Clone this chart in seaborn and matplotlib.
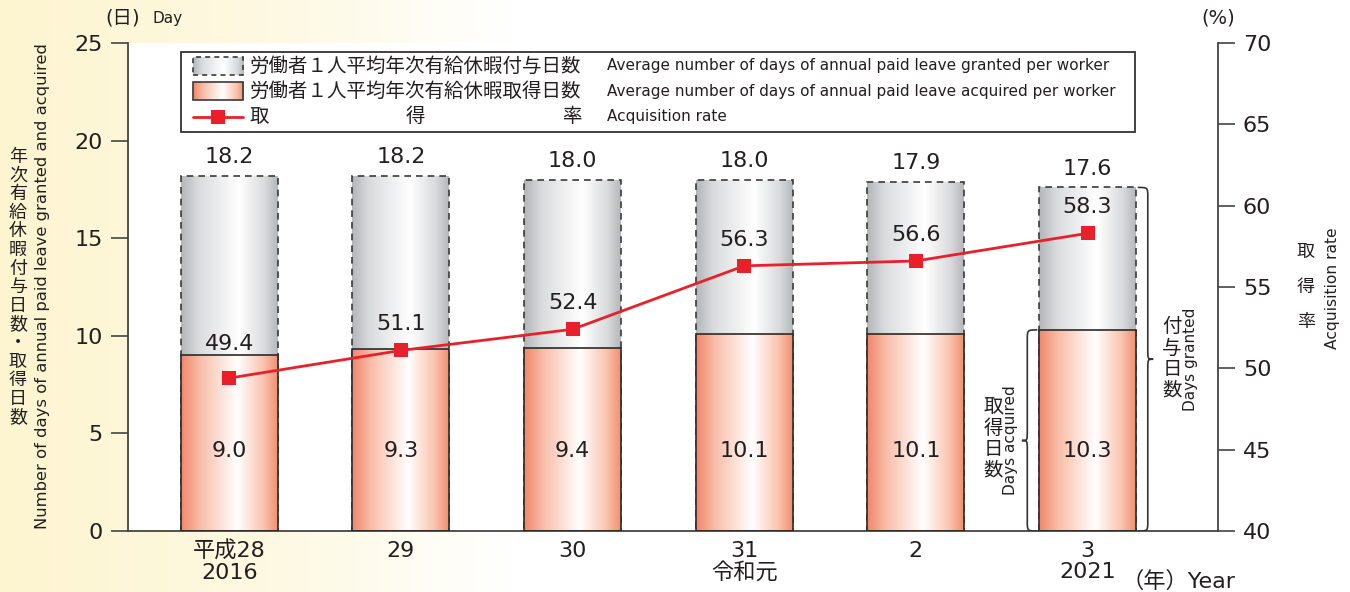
import numpy as np
import pandas as pd
import seaborn as sns
import matplotlib.pyplot as plt
from matplotlib.colors import LinearSegmentedColormap
from matplotlib.patches import Rectangle, PathPatch
from matplotlib.path import Path
import matplotlib.transforms as mtransforms

sns.set_theme(style='ticks')
plt.rcParams['font.family'] = ['DejaVu Sans', 'Noto Sans CJK JP']
plt.rcParams['text.color'] = '#231f20'
JP = ['Noto Sans CJK JP', 'DejaVu Sans']

# data
year_labels = ['平成28\n2016', '29', '30', '31\n令和元', '2', '3\n2021']
granted = [18.2, 18.2, 18.0, 18.0, 17.9, 17.6]
acquired = [9.0, 9.3, 9.4, 10.1, 10.1, 10.3]
rate = [49.4, 51.1, 52.4, 56.3, 56.6, 58.3]

df = pd.DataFrame({'year': year_labels, 'granted': granted,
                   'acquired': acquired, 'rate': rate})

W, H = 1350, 592
INK = '#231f20'
RED = '#e8202a'

gray_cmap = LinearSegmentedColormap.from_list('g', [(0, '#b3b5b8'), (0.18, '#dadbdd'), (0.6, '#ffffff'),
                                                    (0.86, '#dadbdd'), (1, '#b5b7ba')])
orange_cmap = LinearSegmentedColormap.from_list('o', [(0, '#f1866a'), (0.2, '#f8bea9'), (0.58, '#ffffff'),
                                                      (0.85, '#fac4af'), (1, '#f28f70')])
bg_cmap = LinearSegmentedColormap.from_list('bg', [(0, '#fdf5d0'), (0.2, '#fef9e2'), (0.38, '#ffffff'), (1, '#ffffff')])

fig = plt.figure(figsize=(W / 100, H / 100), dpi=100)

# cream background on the left
bg = fig.add_axes([0, 0, 1, 1], zorder=-1)
bg.imshow(np.linspace(0, 1, 400)[None, :], cmap=bg_cmap, aspect='auto', extent=[0, 1, 0, 1])
bg.axis('off')

ax = fig.add_axes([128 / W, 61 / H, 1090 / W, 488 / H])
ax.set_facecolor('white')


def fill_gradient(ax, patch, cmap, z):
    x0, y0 = patch.get_x(), patch.get_y()
    w, h = patch.get_width(), patch.get_height()
    patch.set_facecolor('none')
    im = ax.imshow(np.linspace(0, 1, 256)[None, :], cmap=cmap, aspect='auto',
                   extent=[x0, x0 + w, y0, y0 + h], zorder=z, interpolation='bicubic')
    im.set_clip_path(patch)


# granted (dashed gray) bars
sns.barplot(data=df, x='year', y='granted', ax=ax, width=0.565, color='white', saturation=1,
            edgecolor='#3a3a3a', linewidth=1.2, linestyle=(0, (4, 3)))
gray_bars = list(ax.patches)
# acquired (orange) bars
sns.barplot(data=df, x='year', y='acquired', ax=ax, width=0.565, color='white', saturation=1,
            edgecolor='#2a2a2a', linewidth=1.2)
orange_bars = list(ax.patches)[len(gray_bars):]

for p in gray_bars:
    p.set_zorder(2)
    fill_gradient(ax, p, gray_cmap, 1.5)
for p in orange_bars:
    p.set_zorder(3)
    fill_gradient(ax, p, orange_cmap, 2.5)

ax.set_xlim(-0.59, 5.76)
ax.set_ylim(0, 25)
ax.set_yticks(range(0, 26, 5))
ax.set_xticks(range(len(year_labels)))
ax.set_xticklabels(year_labels, fontsize=16, linespacing=1.05)
ax.set_xlabel('')
ax.set_ylabel('')
ax.tick_params(axis='x', length=0, pad=7, labelcolor=INK)
ax.tick_params(axis='y', direction='out', length=12, width=1.2, color='#444', labelsize=16, pad=6,
               labelcolor=INK)
for s in ['top', 'right']:
    ax.spines[s].set_visible(False)
for s in ['left', 'bottom']:
    ax.spines[s].set_color('#444')
    ax.spines[s].set_linewidth(1.3)

# value labels on bars
for i, (g, a) in enumerate(zip(granted, acquired)):
    ax.annotate(f'{g:.1f}', (i, g), xytext=(0, 13.5), textcoords='offset points',
                ha='center', va='center', fontsize=16)
    ax.text(i, 4.1, f'{a:.1f}', ha='center', va='center', fontsize=16, zorder=4)

# acquisition rate on twin axis
ax2 = ax.twinx()
sns.lineplot(x=np.arange(len(rate)), y=rate, ax=ax2, color=RED, lw=2, marker='s',
             markersize=10.5, markeredgewidth=0)
ax2.set_ylim(40, 70)
ax2.set_xlim(ax.get_xlim())
ax2.set_yticks(range(40, 71, 5))
ax2.set_ylabel('')
ax2.tick_params(axis='y', direction='out', length=12, width=1.2, color='#444', labelsize=16, pad=6,
                labelcolor=INK)
for s in ['top', 'left', 'bottom']:
    ax2.spines[s].set_visible(False)
ax2.spines['right'].set_color('#444')
ax2.spines['right'].set_linewidth(1.3)

scale = (ax2.get_ylim()[1] - ax2.get_ylim()[0]) / (ax.get_ylim()[1] - ax.get_ylim()[0])
for i, (r, a) in enumerate(zip(rate, acquired)):
    y = max(r + 1.6, ax2.get_ylim()[0] + scale * a + 0.7)
    ax2.text(i, y, f'{r:.1f}', ha='center', va='center', fontsize=16)

# year unit after last tick
blend = mtransforms.blended_transform_factory(ax.transData, ax.transAxes)
ax.text(len(year_labels) - 1 + 0.2, -0.103, '（年）Year', transform=blend, ha='left', va='center',
        fontsize=16, clip_on=False)

# legend box
lx0, lx1, ly0, ly1 = 0.0486, 0.9239, 0.8176, 0.9816
ax.add_patch(Rectangle((lx0, ly0), lx1 - lx0, ly1 - ly0, transform=ax.transAxes, facecolor='white',
                       edgecolor='#333', lw=1.3, zorder=5))
rows = [0.9529, 0.9016, 0.8484]
hx0, hx1, hh = 0.0596, 0.1055, 0.035
xl0, xl1 = ax.get_xlim()
yl0, yl1 = ax.get_ylim()


def f2d(fx, fy):
    return xl0 + fx * (xl1 - xl0), yl0 + fy * (yl1 - yl0)


for row, cmap, ls in [(rows[0], gray_cmap, (0, (3, 2.5))), (rows[1], orange_cmap, '-')]:
    dx0, dy0 = f2d(hx0, row - hh / 2)
    dx1, dy1 = f2d(hx1, row + hh / 2)
    r = Rectangle((dx0, dy0), dx1 - dx0, dy1 - dy0, facecolor='none', edgecolor='#3a3a3a',
                  lw=1.2, linestyle=ls, zorder=7)
    ax.add_patch(r)
    fill_gradient(ax, r, cmap, 6)

ax.plot([hx0, hx1], [rows[2]] * 2, transform=ax.transAxes, color=RED, lw=2, zorder=7)
ax.plot([(hx0 + hx1) / 2], [rows[2]], transform=ax.transAxes, color=RED, marker='s', ms=9.5,
        mew=0, zorder=7)

jp_x, en_x = 0.1119, 0.4394
t1 = ax.text(jp_x, rows[0], '労働者１人平均年次有給休暇付与日数', transform=ax.transAxes,
             ha='left', va='center', fontsize=14, family=JP, zorder=7)
ax.text(jp_x, rows[1], '労働者１人平均年次有給休暇取得日数', transform=ax.transAxes,
        ha='left', va='center', fontsize=14, family=JP, zorder=7)
fig.canvas.draw()
bb = t1.get_window_extent().transformed(ax.transAxes.inverted())
ax.text(bb.x0, rows[2], '取', transform=ax.transAxes, ha='left', va='center', fontsize=14,
        family=JP, zorder=7)
ax.text((bb.x0 + bb.x1) / 2, rows[2], '得', transform=ax.transAxes, ha='center', va='center',
        fontsize=14, family=JP, zorder=7)
ax.text(bb.x1, rows[2], '率', transform=ax.transAxes, ha='right', va='center', fontsize=14,
        family=JP, zorder=7)
for row, txt in zip(rows, ['Average number of days of annual paid leave granted per worker',
                           'Average number of days of annual paid leave acquired per worker',
                           'Acquisition rate']):
    ax.text(en_x, row, txt, transform=ax.transAxes, ha='left', va='center', fontsize=11, zorder=7)


# braces next to the last bar
def brace(ax, x_edge, x_tip, y0, y1, ym, r):
    xm = x_edge + 0.65 * (x_tip - x_edge)
    verts = [(x_edge, y1), (xm, y1), (xm, y1), (xm, y1 - r), (xm, ym + r),
             (xm, ym), (xm, ym), (x_tip, ym), (xm, ym), (xm, ym), (xm, ym - r),
             (xm, y0 + r), (xm, y0), (xm, y0), (x_edge, y0)]
    codes = [Path.MOVETO] + [Path.CURVE4] * 3 + [Path.LINETO] + [Path.CURVE4] * 6 + \
            [Path.LINETO] + [Path.CURVE4] * 3
    ax.add_patch(PathPatch(Path(verts, codes), facecolor='none', edgecolor='#333', lw=1.2, zorder=4))


last = orange_bars[-1]
bl, br = last.get_x(), last.get_x() + last.get_width()
brace(ax, bl - 0.01, bl - 0.1, 0.0, acquired[-1], 0.45 * acquired[-1], 0.5)
brace(ax, br + 0.01, br + 0.1, 0.0, granted[-1], 0.5 * granted[-1], 0.5)
ax.set_xlim(xl0, xl1)
ax.set_ylim(yl0, yl1)


def vtext(x_px, y_px, s, step, **kw):
    for k, ch in enumerate(s):
        fig.text(x_px / W, 1 - (y_px + k * step) / H, ch, ha='center', va='center', family=JP, **kw)


vtext(993, 407, '取得日数', 21, fontsize=14)
fig.text(1010 / W, 1 - 440 / H, 'Days acquired', rotation=90, ha='center', va='center', fontsize=11)
vtext(1172, 327, '付与日数', 21, fontsize=14)
fig.text(1190 / W, 1 - 359 / H, 'Days granted', rotation=90, ha='center', va='center', fontsize=11)

# axis titles
vtext(18, 157, '年次有給休暇付与日数・取得日数', 18.6, fontsize=13)
fig.text(43 / W, 1 - 286 / H, 'Number of days of annual paid leave granted and acquired', rotation=90,
         ha='center', va='center', fontsize=11.8)
vtext(1306, 252, '取得率', 35, fontsize=13)
fig.text(1332 / W, 1 - 288 / H, 'Acquisition rate', rotation=90, ha='center', va='center', fontsize=11.2)
fig.text(105 / W, 1 - 18 / H, '(日)', ha='left', va='center', fontsize=14)
fig.text(152 / W, 1 - 19 / H, 'Day', ha='left', va='center', fontsize=11)
fig.text(1218 / W, 1 - 18 / H, '(%)', ha='center', va='center', fontsize=14)

fig.savefig('out.png', dpi=100)
